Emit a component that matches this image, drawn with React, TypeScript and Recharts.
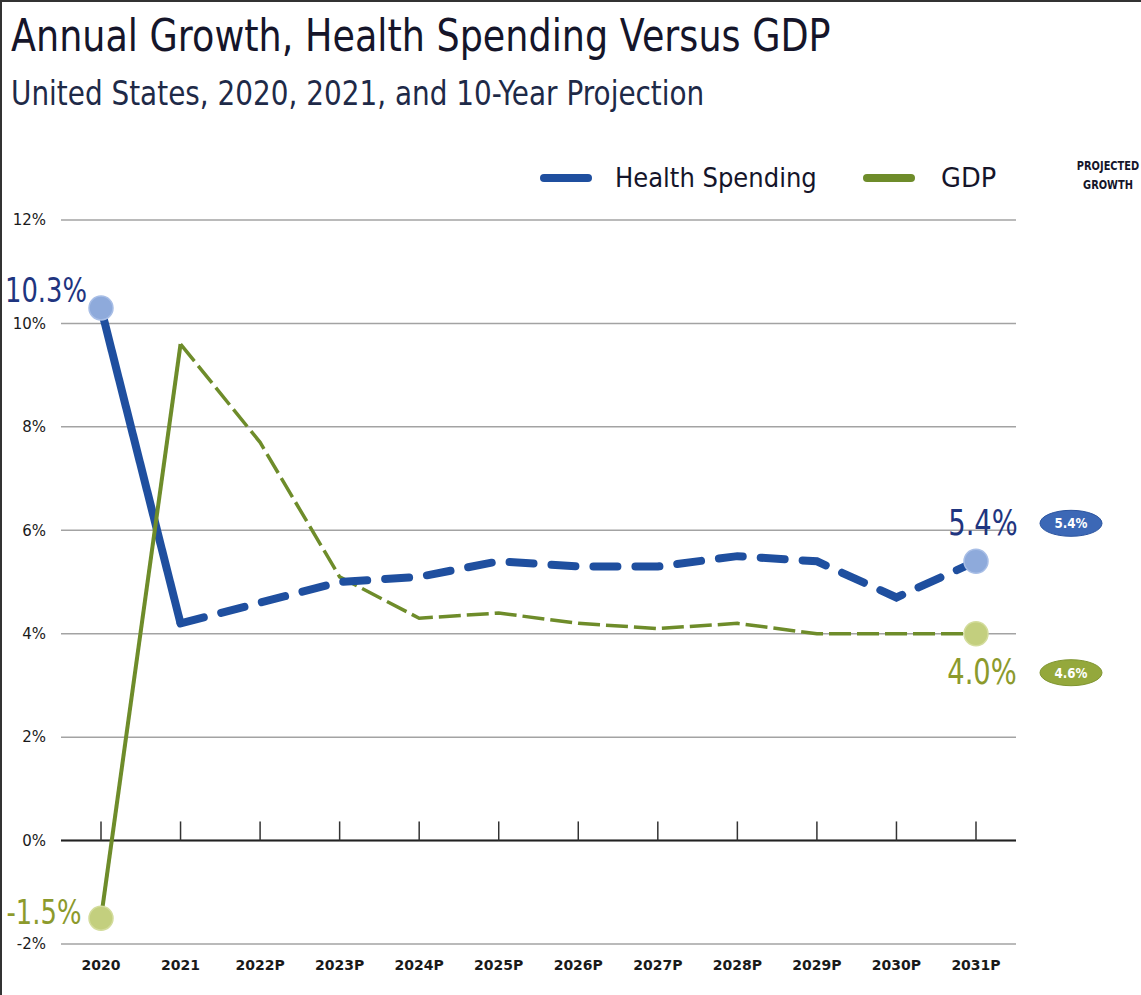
import React from 'react';
import { LineChart, Line, CartesianGrid, XAxis, YAxis, ReferenceLine } from 'recharts';

const years = ['2020', '2021', '2022P', '2023P', '2024P', '2025P', '2026P', '2027P', '2028P', '2029P', '2030P', '2031P'];
const healthSpending = [10.3, 4.2, 4.6, 5.0, 5.1, 5.4, 5.3, 5.3, 5.5, 5.4, 4.7, 5.4];
const gdp = [-1.5, 9.6, 7.7, 5.1, 4.3, 4.4, 4.2, 4.1, 4.2, 4.0, 4.0, 4.0];
const projectedGrowth = ['5.4%', '4.6%'];
const yTicks = [-2, 0, 2, 4, 6, 8, 10, 12];

const lastActual = 1;

const data = years.map((year, i) => ({
  year,
  healthActual: i <= lastActual ? healthSpending[i] : null,
  healthProj: i >= lastActual ? healthSpending[i] : null,
  gdpActual: i <= lastActual ? gdp[i] : null,
  gdpProj: i >= lastActual ? gdp[i] : null,
}));

const FONT = "'DejaVu Sans', sans-serif";
const BLUE = '#1f4f9f';
const GREEN = '#6e8c2a';
const LIGHT_BLUE = '#8eaadb';
const LIGHT_GREEN = '#c3cf7e';
const NAVY = '#1f3580';
const OLIVE = '#8c9a2c';

const fmt = (v: number) => `${v.toFixed(1)}%`;

// narrow text: draws at (x, y) squeezed horizontally
const CondText = ({ x, y, size, fill, sx = 0.8, weight, children }: any) => (
  <g transform={`translate(${x},${y}) scale(${sx},1)`}>
    <text x={0} y={0} textAnchor="middle" fontSize={size} fontFamily={FONT} fontWeight={weight} fill={fill}>
      {children}
    </text>
  </g>
);

const healthStartDot = (props: any) => {
  const { cx, cy, index, value } = props;
  if (index !== 0 || cy == null) return <g key={`hs-${index}`} />;
  return (
    <g key={`hs-${index}`}>
      <circle cx={cx} cy={cy} r={12} fill={LIGHT_BLUE} stroke="#a8bee6" strokeWidth={1.5} />
      <CondText x={cx - 55} y={cy - 6} size={34} sx={0.76} fill={NAVY}>
        {fmt(value)}
      </CondText>
    </g>
  );
};

const gdpStartDot = (props: any) => {
  const { cx, cy, index, value } = props;
  if (index !== 0 || cy == null) return <g key={`gs-${index}`} />;
  return (
    <g key={`gs-${index}`}>
      <circle cx={cx} cy={cy} r={12} fill={LIGHT_GREEN} stroke="#d3dc9c" strokeWidth={1.5} />
      <CondText x={cx - 57} y={cy + 6} size={34} sx={0.76} fill={OLIVE}>
        {fmt(value)}
      </CondText>
    </g>
  );
};

const healthEndDot = (props: any) => {
  const { cx, cy, index, value } = props;
  if (index !== years.length - 1 || cy == null) return <g key={`he-${index}`} />;
  return (
    <g key={`he-${index}`}>
      <circle cx={cx} cy={cy} r={12} fill={LIGHT_BLUE} stroke="#a8bee6" strokeWidth={1.5} />
      <CondText x={cx + 7} y={cy - 26} size={36} sx={0.76} fill={NAVY}>
        {fmt(value)}
      </CondText>
      <ellipse cx={cx + 95} cy={cy - 38} rx={31} ry={13} fill="#3c68b6" stroke="#2c55a0" strokeWidth={1} />
      <CondText x={cx + 95} y={cy - 33} size={14} sx={0.85} weight="bold" fill="#fff">
        {projectedGrowth[0]}
      </CondText>
    </g>
  );
};

const gdpEndDot = (props: any) => {
  const { cx, cy, index, value } = props;
  if (index !== years.length - 1 || cy == null) return <g key={`ge-${index}`} />;
  return (
    <g key={`ge-${index}`}>
      <circle cx={cx} cy={cy} r={12} fill={LIGHT_GREEN} stroke="#d3dc9c" strokeWidth={1.5} />
      <CondText x={cx + 6} y={cy + 50} size={36} sx={0.76} fill={OLIVE}>
        {fmt(value)}
      </CondText>
      <ellipse cx={cx + 95} cy={cy + 39} rx={31} ry={13} fill="#94a83c" stroke="#7f9530" strokeWidth={1} />
      <CondText x={cx + 95} y={cy + 44} size={14} sx={0.85} weight="bold" fill="#fff">
        {projectedGrowth[1]}
      </CondText>
    </g>
  );
};

const squeeze = (sx: number): React.CSSProperties => ({
  display: 'inline-block',
  transform: `scaleX(${sx})`,
  transformOrigin: 'left center',
  whiteSpace: 'nowrap',
});

export default function App() {
  return (
    <div
      style={{
        position: 'absolute',
        left: 0,
        top: 0,
        width: 1141,
        height: 995,
        background: '#fff',
        borderLeft: '2px solid #333',
        borderTop: '2px solid #333',
        boxSizing: 'border-box',
        fontFamily: FONT,
      }}
    >
      <div style={{ position: 'absolute', left: 9, top: 8, fontSize: 44, color: '#15152a', lineHeight: '52px' }}>
        <span style={squeeze(0.83)}>Annual Growth, Health Spending Versus GDP</span>
      </div>
      <div style={{ position: 'absolute', left: 9, top: 72, fontSize: 33, color: '#1e2a48', lineHeight: '40px' }}>
        <span style={squeeze(0.845)}>United States, 2020, 2021, and 10-Year Projection</span>
      </div>

      {/* legend */}
      <div style={{ position: 'absolute', left: 538, top: 172, width: 52, height: 8, borderRadius: 4, background: BLUE }} />
      <div style={{ position: 'absolute', left: 613, top: 158, fontSize: 27, color: '#15152a', lineHeight: '36px' }}>
        <span style={squeeze(0.9)}>Health Spending</span>
      </div>
      <div style={{ position: 'absolute', left: 861, top: 172, width: 52, height: 8, borderRadius: 4, background: GREEN }} />
      <div style={{ position: 'absolute', left: 939, top: 158, fontSize: 27, color: '#15152a', lineHeight: '36px' }}>
        <span style={squeeze(0.95)}>GDP</span>
      </div>
      <div
        style={{
          position: 'absolute',
          left: 1066,
          top: 155,
          width: 80,
          textAlign: 'center',
          fontSize: 12,
          fontWeight: 'bold',
          lineHeight: '19px',
          color: '#15152a',
          transform: 'scaleX(0.82)',
        }}
      >
        PROJECTED
        <br />
        GROWTH
      </div>

      <div style={{ position: 'absolute', left: -2, top: -2 }}>
        <LineChart width={1141} height={995} data={data} margin={{ top: 220, right: 125, bottom: 21, left: 0 }}>
          <CartesianGrid vertical={false} stroke="#a3a3a3" strokeWidth={1.5} />
          <XAxis
            dataKey="year"
            axisLine={false}
            tickLine={false}
            height={30}
            tickMargin={10}
            padding={{ left: 40, right: 40 }}
            tick={{ fontSize: 14, fontWeight: 'bold', fill: '#1a1a1a', fontFamily: FONT }}
          />
          <YAxis
            width={61}
            domain={[-2, 12]}
            ticks={yTicks}
            axisLine={false}
            tickLine={false}
            tickMargin={9}
            tickFormatter={(v: number) => `${v}%`}
            tick={{ fontSize: 15, fill: '#1a1a1a', fontFamily: FONT }}
          />
          <ReferenceLine y={0} stroke="#222" strokeWidth={2} />
          {years.map((y) => (
            <ReferenceLine
              key={y}
              segment={[
                { x: y, y: 0 },
                { x: y, y: 0.37 },
              ]}
              stroke="#333"
              strokeWidth={1.5}
            />
          ))}
          <Line
            dataKey="healthActual"
            type="linear"
            stroke={BLUE}
            strokeWidth={8}
            dot={healthStartDot}
            activeDot={false}
            isAnimationActive={false}
          />
          <Line
            dataKey="gdpActual"
            type="linear"
            stroke={GREEN}
            strokeWidth={4}
            dot={gdpStartDot}
            activeDot={false}
            isAnimationActive={false}
          />
          <Line
            dataKey="gdpProj"
            type="linear"
            stroke={GREEN}
            strokeWidth={3.5}
            strokeDasharray="22 6"
            dot={gdpEndDot}
            activeDot={false}
            isAnimationActive={false}
          />
          <Line
            dataKey="healthProj"
            type="linear"
            stroke={BLUE}
            strokeWidth={8}
            strokeDasharray="24 18"
            strokeLinecap="round"
            dot={healthEndDot}
            activeDot={false}
            isAnimationActive={false}
          />
        </LineChart>
      </div>
    </div>
  );
}
